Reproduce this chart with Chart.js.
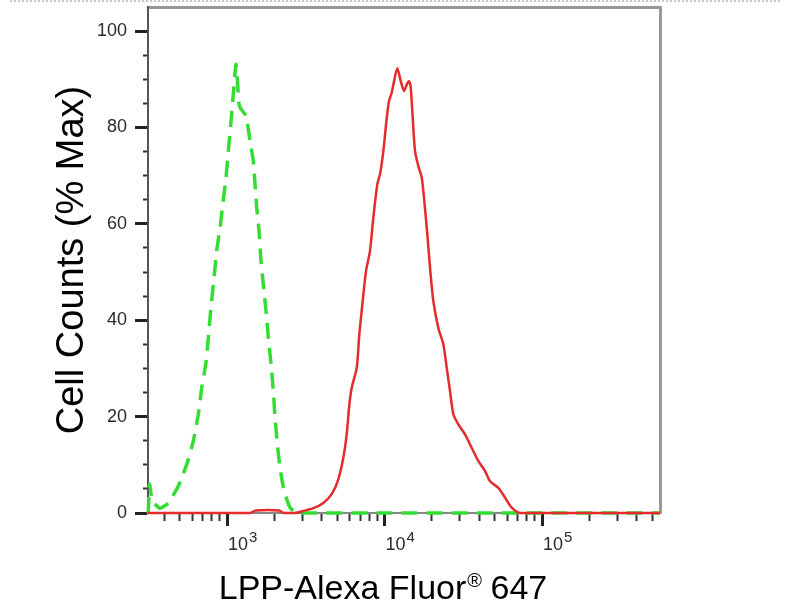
<!DOCTYPE html>
<html>
<head>
<meta charset="utf-8">
<title>LPP flow cytometry histogram</title>
<script src="https://cdn.jsdelivr.net/npm/chart.js@4.4.1/dist/chart.umd.min.js"></script>
<style>
    body { margin: 0; background: #fff; }
    #wrap { position: relative; width: 800px; height: 600px; }
    #topRule { position: absolute; top: 0; left: 10px; width: 770px; border-top: 2px dotted #c8c8c8; }
</style>
</head>
<body>
<div id="wrap">
    <canvas id="histChart" width="800" height="600"></canvas>
    <div id="topRule"></div>
</div>
<script>
// Axis ticks and labels
const xMajorTicks = [1000, 10000, 100000];
const xTickBase = '10';
const xTickExponents = ['3', '4', '5'];
const xMinorTicks = [400, 500, 600, 700, 800, 900,
    2000, 3000, 4000, 5000, 6000, 7000, 8000, 9000,
    20000, 30000, 40000, 50000, 60000, 70000, 80000, 90000,
    200000, 300000, 400000, 500000];
const yMajorTicks = [0, 20, 40, 60, 80, 100];
const yMinorTicks = [5, 10, 15, 25, 30, 35, 45, 50, 55, 65, 70, 75, 85, 90, 95];

const yTitle = 'Cell Counts (% Max)';
const xTitleMain = 'LPP-Alexa Fluor';
const xTitleMark = '®';
const xTitleTail = ' 647';

// Isotype control (green, dashed)
const greenX = [316, 322, 336, 376, 424, 491, 555, 611, 657, 691, 733, 761, 791, 827, 860, 903,
    939, 986, 1019, 1056, 1087, 1141, 1190, 1215, 1320, 1400, 1469, 1506, 1544, 1597, 1637,
    1700, 1769, 1829, 1903, 1968, 2018, 2087, 2170, 2301, 2512, 2771, 3200, 10000, 60000, 560000];
const greenY = [0, 6, 2.5, 1, 2.1, 5.6, 10.1, 14.9, 20.5, 26, 30.9, 36.4, 42.6, 48.8, 54.4, 59.2,
    64, 69.6, 75.1, 80.6, 85.5, 93.1, 85, 84, 82.4, 77.2, 73, 68.2, 63.3, 58.5, 53,
    47.4, 41.9, 36.4, 30.9, 25.3, 19.8, 14.3, 9.4, 4.6, 1.1, 0, 0, 0, 0, 0];

// LPP stained sample (red, solid)
const redX = [315, 1400, 1520, 2150, 2280, 2700, 3040, 3530, 4090, 4620, 5090, 5480, 5750, 5980,
    6190, 6660, 6920, 7270, 7630, 8090, 8490, 9000, 9360, 9830, 10330, 10680, 11110, 11490,
    12060, 12670, 13300, 13840, 14310, 14670, 15100, 15620, 16390, 17230, 17890, 18700, 19450,
    20410, 21960, 23620, 24830, 26060, 27350, 29410, 32440, 35790, 39410, 43460, 46760, 52780,
    58230, 64220, 72520, 112000, 560000];
const redY = [0, 0, 0.5, 0.5, 0, 0, 0.4, 1.0, 2.1, 3.9, 7, 11.5, 16.3, 22.5,
    26, 30.1, 37.1, 44, 50.2, 54.4, 61.3, 68.2, 70.3, 75.1, 82, 85.5, 87.2, 89.6,
    92.3, 89.6, 87.6, 88.9, 89.6, 88.2, 82, 75.1, 72, 69.6, 64.7, 57.8, 50.9,
    44, 38.4, 35, 30.1, 25.3, 20.5, 18.4, 16.3, 13.5, 10.8, 8.7, 6.6, 5.2,
    3.2, 1.1, 0, 0, 0];

const FONT = "'Liberation Sans', Arial, sans-serif";
Chart.defaults.font.family = FONT;

/**
 * Build {x, y} points from two parallel arrays
 */
function toPoints(xs, ys) {
    return xs.map((x, i) => ({ x: x, y: ys[i] }));
}

/**
 * Fix an axis box size and drop the label overflow padding
 */
function fixSize(prop, size) {
    return s => {
        s[prop] = size;
        s.paddingTop = 0;
        s.paddingBottom = 0;
        s.paddingLeft = 0;
        s.paddingRight = 0;
    };
}

// Draws "10" with a raised exponent under each decade tick
const decadeLabelPlugin = {
    id: 'decadeLabels',
    afterDraw(chart) {
        const ctx = chart.ctx;
        const scale = chart.scales.x;
        ctx.save();
        ctx.fillStyle = '#2a2a2a';
        ctx.textAlign = 'left';
        ctx.textBaseline = 'alphabetic';
        xMajorTicks.forEach((v, i) => {
            const px = scale.getPixelForValue(v);
            ctx.font = '18px ' + FONT;
            ctx.fillText(xTickBase, px + 1, 550);
            const w = ctx.measureText(xTickBase).width;
            ctx.font = '15px ' + FONT;
            ctx.fillText(xTickExponents[i], px + w + 2, 542);
        });
        ctx.restore();
    }
};

// Draws the x axis title with a raised registered mark
const xTitlePlugin = {
    id: 'xTitle',
    afterDraw(chart) {
        const ctx = chart.ctx;
        const big = '34px ' + FONT;
        const small = '20px ' + FONT;
        ctx.save();
        ctx.fillStyle = '#000';
        ctx.textBaseline = 'alphabetic';
        ctx.textAlign = 'left';
        ctx.font = big;
        const w1 = ctx.measureText(xTitleMain).width;
        const w3 = ctx.measureText(xTitleTail).width;
        ctx.font = small;
        const w2 = ctx.measureText(xTitleMark).width;
        const centerX = 383;
        const baseY = chart.height - 1;
        let x = centerX - (w1 + w2 + w3) / 2;
        ctx.font = big;
        ctx.fillText(xTitleMain, x, baseY);
        x += w1;
        ctx.font = small;
        ctx.fillText(xTitleMark, x + 1, baseY - 12);
        x += w2;
        ctx.font = big;
        ctx.fillText(xTitleTail, x, baseY);
        ctx.restore();
    }
};

const noGrid = { drawOnChartArea: false };

new Chart(document.getElementById('histChart').getContext('2d'), {
    type: 'line',
    data: {
        datasets: [{
            label: 'LPP',
            data: toPoints(redX, redY),
            borderColor: '#e52b2b',
            borderWidth: 2.5,
            pointRadius: 0,
            tension: 0.25,
            clip: false
        }, {
            label: 'Isotype',
            data: toPoints(greenX, greenY),
            borderColor: '#33dd33',
            borderWidth: 3.5,
            borderDash: [16, 9],
            pointRadius: 0,
            tension: 0.15,
            clip: false
        }]
    },
    options: {
        responsive: false,
        devicePixelRatio: 1,
        animation: false,
        layout: { padding: { top: 7, right: 140, left: 0, bottom: 0 } },
        plugins: { legend: { display: false }, tooltip: { enabled: false } },
        scales: {
            x: {
                type: 'logarithmic',
                position: 'bottom',
                weight: 1,
                min: 315,
                max: 561000,
                afterBuildTicks: s => { s.ticks = xMajorTicks.map(v => ({ value: v })); },
                afterFit: fixSize('height', 87),
                grid: { ...noGrid, tickLength: 13, tickWidth: 3, tickColor: '#222' },
                border: { display: true, color: '#888', width: 2 },
                ticks: { display: false, autoSkip: false }
            },
            xMinor: {
                type: 'logarithmic',
                axis: 'x',
                position: 'bottom',
                weight: 0,
                min: 315,
                max: 561000,
                afterBuildTicks: s => { s.ticks = xMinorTicks.map(v => ({ value: v })); },
                afterFit: fixSize('height', 0),
                grid: { ...noGrid, tickLength: 8, tickWidth: 2, tickColor: '#333' },
                border: { display: false },
                ticks: { display: false, autoSkip: false }
            },
            xTop: {
                type: 'linear',
                axis: 'x',
                position: 'top',
                afterFit: fixSize('height', 0),
                grid: { ...noGrid, drawTicks: false },
                border: { display: true, color: '#999', width: 3 },
                ticks: { display: false }
            },
            y: {
                type: 'linear',
                position: 'left',
                weight: 1,
                min: 0,
                max: 105,
                afterBuildTicks: s => { s.ticks = yMajorTicks.map(v => ({ value: v })); },
                afterFit: fixSize('width', 148),
                grid: { ...noGrid, tickLength: 13, tickWidth: 3, tickColor: '#222' },
                border: { display: true, color: '#555', width: 2 },
                ticks: { padding: 8, color: '#2a2a2a', font: { size: 18 } },
                title: {
                    display: true,
                    text: yTitle,
                    color: '#000',
                    font: { size: 38 },
                    padding: { top: 50, bottom: 0 }
                }
            },
            yMinor: {
                type: 'linear',
                axis: 'y',
                position: 'left',
                weight: 0,
                min: 0,
                max: 105,
                afterBuildTicks: s => { s.ticks = yMinorTicks.map(v => ({ value: v })); },
                afterFit: fixSize('width', 0),
                grid: { ...noGrid, tickLength: 5, tickWidth: 2, tickColor: '#333' },
                border: { display: false },
                ticks: { display: false }
            },
            yRight: {
                type: 'linear',
                axis: 'y',
                position: 'right',
                afterFit: fixSize('width', 0),
                grid: { ...noGrid, drawTicks: false },
                border: { display: true, color: '#999', width: 3 },
                ticks: { display: false }
            }
        }
    },
    plugins: [decadeLabelPlugin, xTitlePlugin]
});
</script>
</body>
</html>
